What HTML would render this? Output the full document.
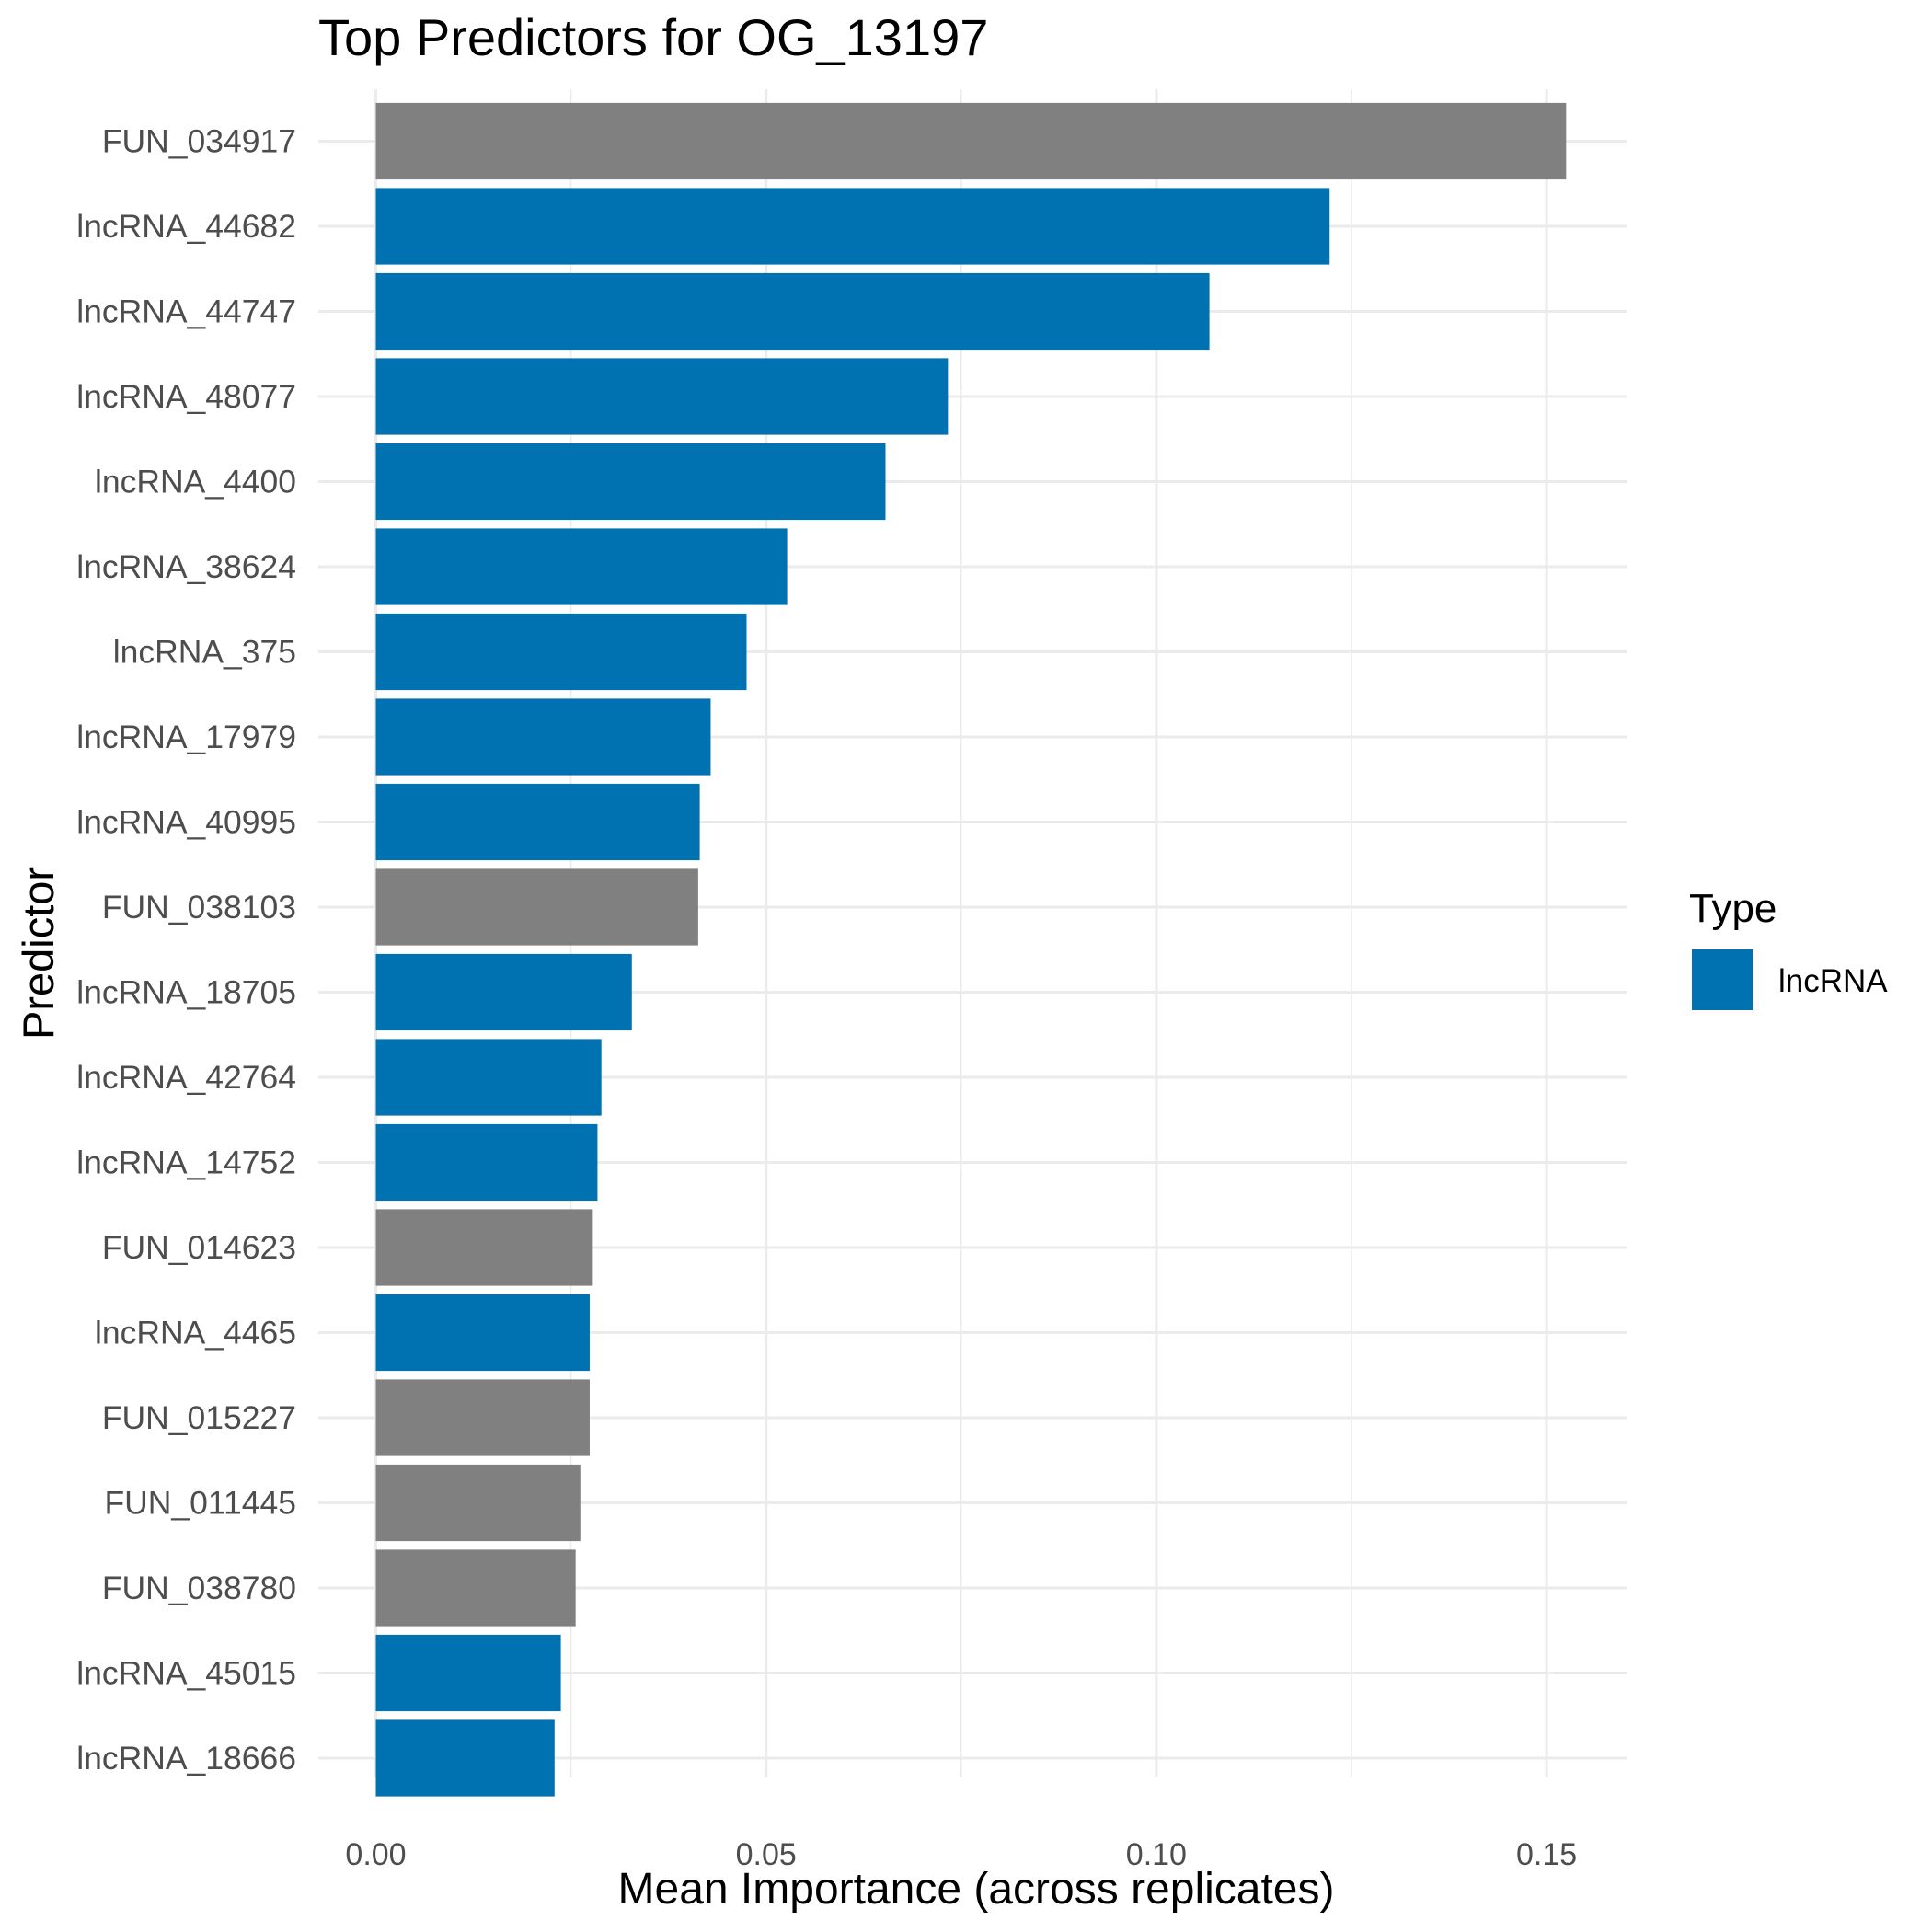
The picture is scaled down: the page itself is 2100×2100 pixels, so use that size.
<!DOCTYPE html>
<html><head><meta charset="utf-8"><style>
html,body{margin:0;padding:0;background:#fff;}
svg{display:block;font-family:"Liberation Sans","DejaVu Sans",sans-serif;}
</style></head><body>
<svg id="chart" width="2100" height="2100" viewBox="0 0 2100 2100" xmlns="http://www.w3.org/2000/svg">
<text x="346" y="60" font-size="56" fill="#000">Top Predictors for OG_13197</text>
<g id="grid"></g>
<g id="bars"></g>
<g id="ylabels"></g>
<g id="xlabels"></g>
<text x="1061" y="2069" font-size="48" text-anchor="middle" fill="#000">Mean Importance (across replicates)</text>
<text transform="translate(58,1036) rotate(-90)" font-size="47" text-anchor="middle" fill="#000">Predictor</text>
<g>
<text x="1836" y="1002" font-size="44" fill="#000">Type</text>
<rect x="1839" y="1032" width="66" height="66" fill="#0072b2"></rect>
<text x="1933" y="1078" font-size="35" fill="#000">lncRNA</text>
</g>
</svg>
<script>
const categories = ["FUN_034917","lncRNA_44682","lncRNA_44747","lncRNA_48077","lncRNA_4400","lncRNA_38624","lncRNA_375","lncRNA_17979","lncRNA_40995","FUN_038103","lncRNA_18705","lncRNA_42764","lncRNA_14752","FUN_014623","lncRNA_4465","FUN_015227","FUN_011445","FUN_038780","lncRNA_45015","lncRNA_18666"];
const values = [0.1525,0.1222,0.1068,0.0733,0.0653,0.0527,0.0475,0.0429,0.0415,0.0413,0.0328,0.0289,0.0284,0.0278,0.0274,0.0274,0.0262,0.0256,0.0237,0.0229];
const types = ["FUN","lncRNA","lncRNA","lncRNA","lncRNA","lncRNA","lncRNA","lncRNA","lncRNA","FUN","lncRNA","lncRNA","lncRNA","FUN","lncRNA","FUN","FUN","FUN","lncRNA","lncRNA"];
const xTicks = [0, 0.05, 0.10, 0.15];
const xTickLabels = ["0.00","0.05","0.10","0.15"];
const xMinor = [0.025, 0.075, 0.125];

const NS = "http://www.w3.org/2000/svg";
const X0 = 408.5, PXPER = 424.2/0.05;
const x = v => X0 + v*PXPER;
const ROW0 = 153.5, ROWSTEP = 92.5, BARH = 83.2;
const y = i => ROW0 + i*ROWSTEP;
const PL = 346, PR = 1768, PT = 97, PB = 1932;
function mk(tag, attrs, parent){const e=document.createElementNS(NS,tag);for(const k in attrs)e.setAttribute(k,attrs[k]);parent.appendChild(e);return e;}
const grid=document.getElementById('grid'), bars=document.getElementById('bars'), yl=document.getElementById('ylabels'), xl=document.getElementById('xlabels');
xMinor.forEach(v=>{
  const l=mk('line',{x1:x(v),x2:x(v),y1:PT,y2:PB,stroke:'#ebebeb','stroke-width':1.5},grid);
  
  
});
xTicks.forEach((v,i)=>{
  const l=mk('line',{x1:x(v),x2:x(v),y1:PT,y2:PB,stroke:'#ebebeb','stroke-width':3},grid);
  
  
  const t=mk('text',{x:x(v),y:2027,'font-size':34,'text-anchor':'middle',fill:'#4d4d4d'},xl);
  t.textContent=xTickLabels[i];
  
  
});
categories.forEach((c,i)=>{
  const l=mk('line',{x1:PL,x2:PR,y1:y(i),y2:y(i),stroke:'#ebebeb','stroke-width':3},grid);
  
  
  const r=mk('rect',{x:x(0),y:y(i)-BARH/2,width:x(values[i])-x(0),height:BARH,fill:types[i]==='FUN'?'#808080':'#0072b2'},bars);
  
  
  const t=mk('text',{x:322,y:y(i)+12,'font-size':35.5,'text-anchor':'end',fill:'#4d4d4d'},yl);
  t.textContent=c;
  
  
});
</script>
</body></html>
